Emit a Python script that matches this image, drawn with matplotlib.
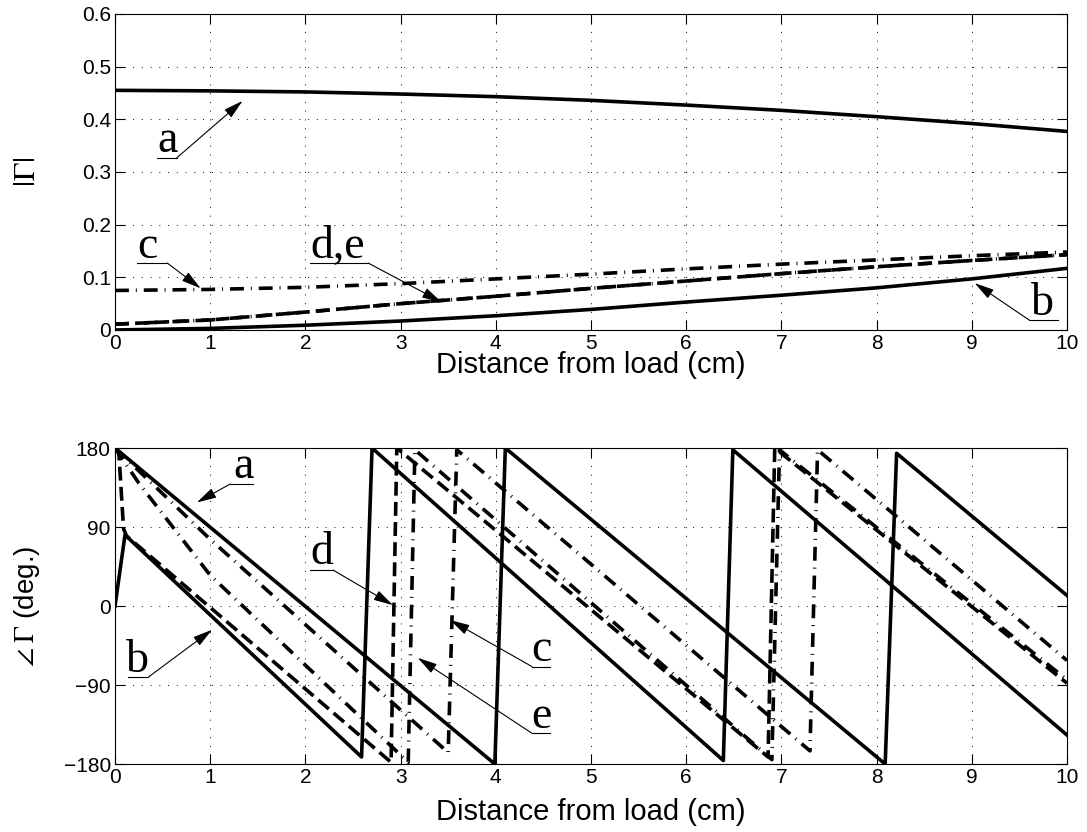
import matplotlib
matplotlib.use('Agg')
import matplotlib.pyplot as plt

plt.rcParams['font.family'] = ['Liberation Sans', 'DejaVu Sans']
plt.rcParams['mathtext.fontset'] = 'stix'
plt.rcParams['lines.scale_dashes'] = False

# |Gamma| vs distance (cm)
x_mag = [0, 1, 2, 3, 4, 5, 6, 7, 8, 9, 10]
mag_a = [0.455, 0.454, 0.452, 0.448, 0.443, 0.436, 0.427, 0.417, 0.405, 0.392, 0.377]
mag_b = [0.0, 0.003, 0.009, 0.017, 0.027, 0.039, 0.053, 0.066, 0.080, 0.097, 0.117]
mag_c = [0.075, 0.077, 0.081, 0.088, 0.097, 0.106, 0.116, 0.125, 0.133, 0.141, 0.148]
mag_d = [0.011, 0.019, 0.034, 0.050, 0.064, 0.079, 0.093, 0.107, 0.120, 0.132, 0.143]
mag_e = [0.011, 0.019, 0.034, 0.050, 0.064, 0.079, 0.093, 0.107, 0.120, 0.132, 0.143]

# phase of Gamma (deg.), wrapped to +-180
ph_a_x = [0, 3.99, 4.10, 8.09, 8.21, 10]
ph_a_y = [180, -180, 180, -180, 174, 12]
ph_b_x = [0, 0.105, 2.59, 2.70, 6.39, 6.49, 10]
ph_b_y = [0, 81, -172, 180, -176, 178, -147]
ph_c_x = [0, 1.0, 3.50, 3.59, 7.30, 7.38, 10]
ph_c_y = [180, 76, -167, 178, -165, 178, -62]
ph_d_x = [0, 0.04, 0.09, 0.12, 2.90, 2.96, 6.86, 6.93, 10]
ph_d_y = [180, 175, 88, 80, -178, 180, -172, 180, -88]
ph_e_x = [0, 0.25, 1.0, 3.08, 3.15, 6.90, 6.98, 10]
ph_e_y = [180, 140, 35, -178, 178, -175, 178, -84]

x_ticks = [0, 1, 2, 3, 4, 5, 6, 7, 8, 9, 10]
mag_ticks = [0, 0.1, 0.2, 0.3, 0.4, 0.5, 0.6]
mag_labels = ['0', '0.1', '0.2', '0.3', '0.4', '0.5', '0.6']
ph_ticks = [-180, -90, 0, 90, 180]

solid = dict(color='k', lw=2.6, ls='-')
dashdot = dict(color='k', lw=2.6, dashes=(10, 5, 0.7, 5))
dashed = dict(color='k', lw=2.6, dashes=(10, 4.5))


def callout(ax, text, tx, ux, uy, tip, side):
    ax.plot(ux, [uy, uy], color='k', lw=0.8)
    start = (ux[0], uy) if side == 'left' else (ux[1], uy)
    ax.annotate('', xy=tip, xytext=start,
                arrowprops=dict(arrowstyle='-|>,head_length=0.6,head_width=0.16',
                                color='k', lw=0.8, shrinkA=0, shrinkB=0,
                                mutation_scale=20))
    ax.annotate(text, xy=(tx, uy), xytext=(0, 4), textcoords='offset points',
                ha='center', va='baseline', fontsize=33, family='Liberation Serif')


def style_axes(ax):
    ax.set_xlim(0, 10)
    ax.set_xticks(x_ticks)
    ax.tick_params(direction='in', top=True, right=True, length=7, width=0.8,
                   labelsize=15, pad=3)
    ax.grid(True, color='k', lw=0.6, linestyle=(0, (0.8, 5.5)))
    for s in ax.spines.values():
        s.set_linewidth(0.8)
    ax.set_xlabel('Distance from load (cm)', fontsize=21)


fig = plt.figure(figsize=(10.87, 8.32), dpi=100)
ax1 = fig.add_axes([0.1058, 0.6034, 0.8758, 0.3798])
ax2 = fig.add_axes([0.1058, 0.0817, 0.8758, 0.3798])

# top: magnitude
ax1.plot(x_mag, mag_a, **solid)
ax1.plot(x_mag, mag_b, **solid)
ax1.plot(x_mag, mag_c, **dashdot)
ax1.plot(x_mag, mag_d, **dashed)
ax1.plot(x_mag, mag_e, **dashdot)
style_axes(ax1)
ax1.set_ylim(0, 0.6)
ax1.set_yticks(mag_ticks)
ax1.set_yticklabels(mag_labels)
ax1.set_ylabel(r'$|\Gamma|$', fontsize=22)
ax1.yaxis.set_label_coords(-0.077, 0.5)
ax1.xaxis.set_label_coords(0.5, -0.068)

callout(ax1, 'a', 0.55, [0.44, 0.65], 0.327, (1.34, 0.435), 'right')
callout(ax1, 'c', 0.34, [0.23, 0.55], 0.127, (0.90, 0.079), 'right')
callout(ax1, 'd,e', 2.34, [2.05, 2.66], 0.127, (3.43, 0.053), 'right')
callout(ax1, 'b', 9.74, [9.61, 9.91], 0.018, (9.03, 0.089), 'left')

# bottom: phase
ax2.plot(ph_a_x, ph_a_y, **solid)
ax2.plot(ph_b_x, ph_b_y, **solid)
ax2.plot(ph_c_x, ph_c_y, **dashdot)
ax2.plot(ph_d_x, ph_d_y, **dashed)
ax2.plot(ph_e_x, ph_e_y, **dashdot)
style_axes(ax2)
ax2.set_ylim(-180, 180)
ax2.set_yticks(ph_ticks)
ax2.set_ylabel(r'$\angle\;\Gamma$ (deg.)', fontsize=20)
ax2.yaxis.set_label_coords(-0.077, 0.5)
ax2.xaxis.set_label_coords(0.5, -0.106)

callout(ax2, 'a', 1.35, [1.21, 1.45], 139, (0.86, 118), 'left')
callout(ax2, 'b', 0.24, [0.14, 0.35], -81, (1.02, -27), 'right')
callout(ax2, 'd', 2.17, [2.05, 2.29], 41, (2.92, 1), 'right')
callout(ax2, 'c', 4.48, [4.38, 4.57], -69, (3.52, -16), 'left')
callout(ax2, 'e', 4.48, [4.38, 4.57], -145, (3.18, -59), 'left')

fig.savefig('out.png', dpi=100, facecolor='white')
